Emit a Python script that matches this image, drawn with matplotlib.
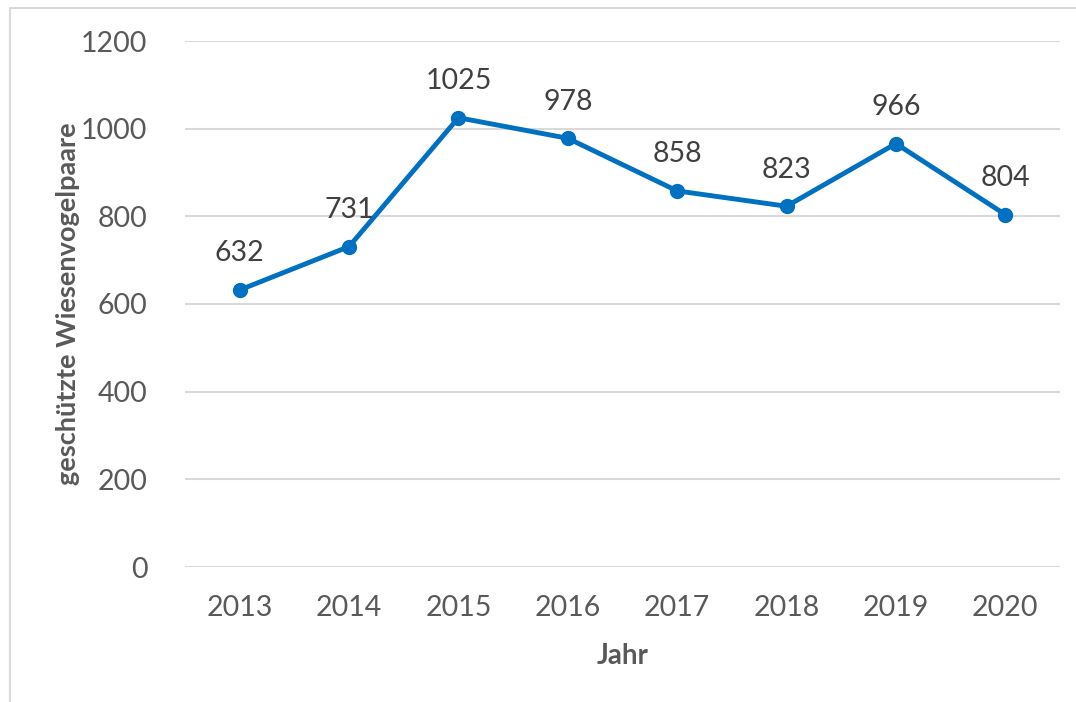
import matplotlib.pyplot as plt
from matplotlib.patches import Rectangle

# --- Daten ---
jahre = ["2013", "2014", "2015", "2016", "2017", "2018", "2019", "2020"]
paare = [632, 731, 1025, 978, 858, 823, 966, 804]
y_ticks = [0, 200, 400, 600, 800, 1000, 1200]

plt.rcParams['font.family'] = ['Lato', 'DejaVu Sans']

fig = plt.figure(figsize=(10.76, 7.02), dpi=100)
ax = fig.add_axes([185 / 1076, 1 - 567 / 702, 875 / 1076, 526 / 702])

x = list(range(len(jahre)))
ax.plot(x, paare, color='#0070C0', linewidth=3.5, marker='o', markersize=10, zorder=3)

for xi, v in zip(x, paare):
    ax.annotate(str(v), (xi, v), xytext=(0, 17), textcoords='offset points',
                ha='center', va='bottom', fontsize=20.5, color='#404040')

ax.set_xlim(-0.5, len(jahre) - 0.5)
ax.set_ylim(0, 1200)
ax.set_yticks(y_ticks)
ax.set_xticks(x)
ax.set_xticklabels(jahre)
ax.tick_params(axis='both', length=0, labelsize=20.5, labelcolor='#595959')
ax.tick_params(axis='y', pad=27)
ax.tick_params(axis='x', pad=20)
ax.grid(axis='y', color='#D9D9D9', linewidth=1.5)
ax.set_axisbelow(True)
for s in ax.spines.values():
    s.set_visible(False)

ax.set_xlabel("Jahr", fontsize=20, fontweight='bold', color='#595959', labelpad=16)
ax.set_ylabel("geschützte Wiesenvogelpaare", fontsize=19.5, fontweight='bold',
              color='#595959', labelpad=4)
ax.yaxis.set_label_coords(-0.12, 0.5)

# Rahmen des Diagrammbereichs
fig.patches.append(Rectangle((10 / 1076, -0.1), 1.2, 1 - 8 / 702 + 0.1,
                             transform=fig.transFigure, fill=False,
                             edgecolor='#D9D9D9', linewidth=1.5))

fig.savefig("out.png", dpi=100)
